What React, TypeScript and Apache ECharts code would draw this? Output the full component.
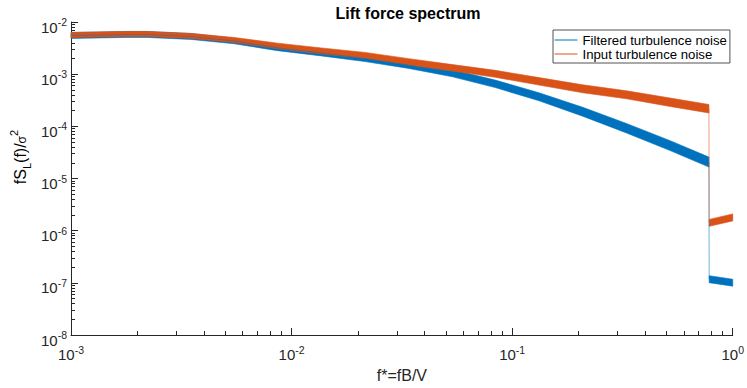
import React, { useEffect, useRef } from "react";
import * as echarts from "echarts";

// Normalised frequency f* = fB/V (sample points)
const freq = [0.001, 0.001769, 0.002222, 0.003508, 0.00548, 0.00865, 0.01365, 0.02154, 0.034, 0.0537, 0.0838, 0.1323, 0.2088, 0.3296, 0.5202, 0.78, 0.782, 1.0];

// Input turbulence noise: band centre, upper and lower envelope of the noisy trace
const inputMid = [5.64e-3, 5.898e-3, 5.898e-3, 5.4e-3, 4.53e-3, 3.478e-3, 2.791e-3, 2.29e-3, 1.72e-3, 1.321e-3, 1.015e-3, 7.295e-4, 5.243e-4, 4.027e-4, 2.895e-4, 2.175e-4, 1.41e-6, 1.797e-6];
const inputHi = [6.3e-3, 6.585e-3, 6.585e-3, 6.03e-3, 5.056e-3, 3.926e-3, 3.185e-3, 2.613e-3, 1.985e-3, 1.524e-3, 1.184e-3, 8.6e-4, 6.254e-4, 4.801e-4, 3.49e-4, 2.623e-4, 1.645e-6, 2.096e-6];
const inputLo = [5.056e-3, 5.283e-3, 5.283e-3, 4.84e-3, 4.058e-3, 3.082e-3, 2.446e-3, 2.007e-3, 1.491e-3, 1.145e-3, 8.7e-4, 6.185e-4, 4.398e-4, 3.378e-4, 2.401e-4, 1.804e-4, 1.209e-6, 1.54e-6];

// Filtered turbulence noise
const filteredMid = [5.52e-3, 5.77e-3, 5.77e-3, 5.283e-3, 4.335e-3, 3.185e-3, 2.556e-3, 1.99e-3, 1.488e-3, 1.037e-3, 6.535e-4, 3.688e-4, 1.906e-4, 9.22e-5, 4.269e-5, 2.066e-5, 1.174e-7, 1.006e-7];
const filteredHi = [6.3e-3, 6.585e-3, 6.585e-3, 6.03e-3, 4.892e-3, 3.594e-3, 2.916e-3, 2.27e-3, 1.717e-3, 1.21e-3, 7.705e-4, 4.398e-4, 2.323e-4, 1.137e-4, 5.32e-5, 2.574e-5, 1.37e-7, 1.174e-7];
const filteredLo = [4.84e-3, 5.056e-3, 5.056e-3, 4.63e-3, 3.841e-3, 2.822e-3, 2.24e-3, 1.743e-3, 1.289e-3, 8.89e-4, 5.54e-4, 3.093e-4, 1.564e-4, 7.482e-5, 3.425e-5, 1.658e-5, 1.006e-7, 8.63e-8];

// segments of the trace (before and after the drop)
const segments = [[0, 15], [16, 17]];

const seriesNames = ["Filtered turbulence noise", "Input turbulence noise"];
const titleText = "Lift force spectrum";
const xName = "f*=fB/V";

const BLUE = "#0072BD";
const ORANGE = "#D95319";
const AX = "#262626";
const FONT = "'Liberation Sans', Arial, Helvetica, sans-serif";

function bandSeries(name: string, hi: number[], lo: number[], color: string) {
  return {
    type: "custom",
    name,
    coordinateSystem: "cartesian2d",
    silent: true,
    encode: { x: 0, y: 1 },
    data: segments.map((s, k) => [freq[s[0]], hi[s[0]], k]),
    renderItem: (params: any, api: any) => {
      const k = api.value(2);
      const [s, e] = segments[k];
      const pts: number[][] = [];
      for (let i = s; i <= e; i++) pts.push(api.coord([freq[i], hi[i]]));
      for (let i = e; i >= s; i--) pts.push(api.coord([freq[i], lo[i]]));
      return {
        type: "polygon",
        shape: { points: pts },
        style: { fill: color, stroke: color, lineWidth: 0.6 },
      };
    },
  };
}

const expLabel = (v: number) => {
  const e = Math.round(Math.log10(v));
  return `{b|10}{s|${e}}`;
};

const tickRich = {
  b: { fontSize: 15, fontFamily: FONT, color: AX, lineHeight: 18, verticalAlign: "bottom" },
  s: { fontSize: 10.5, fontFamily: FONT, color: AX, lineHeight: 18, verticalAlign: "top" },
};

export default function App() {
  const ref = useRef<HTMLDivElement>(null);
  useEffect(() => {
    if (!ref.current) return;
    const chart = echarts.init(ref.current, undefined, { renderer: "svg" });
    const option: any = {
      animation: false,
      backgroundColor: "#ffffff",
      title: {
        text: titleText,
        left: 403,
        top: 0,
        textAlign: "center",
        textStyle: { fontSize: 16, fontWeight: "bold", fontFamily: FONT, color: "#000" },
      },
      grid: { left: 71, right: 10, top: 22, bottom: 52 },
      legend: {
        data: seriesNames,
        orient: "vertical",
        left: 553,
        top: 30,
        padding: [3, 3, 2, 1],
        itemGap: 0,
        itemWidth: 23,
        itemHeight: 14,
        backgroundColor: "#fff",
        borderColor: AX,
        borderWidth: 0.8,
        lineStyle: { opacity: 1, width: 1 },
        itemStyle: { opacity: 0 },
        textStyle: { fontSize: 13.2, fontFamily: FONT, color: "#000", lineHeight: 14 },
      },
      xAxis: {
        type: "log",
        logBase: 10,
        min: 0.001,
        max: 1,
        axisLine: { show: true, onZero: false, lineStyle: { color: AX, width: 1 } },
        axisTick: { show: true, inside: true, length: 7, lineStyle: { color: AX } },
        minorTick: { show: true, splitNumber: 9, length: 4, lineStyle: { color: AX } },
        splitLine: { show: false },
        minorSplitLine: { show: false },
        axisLabel: { margin: 9, formatter: expLabel, rich: tickRich, showMinLabel: true, showMaxLabel: true },
        name: xName,
        nameLocation: "middle",
        nameGap: 32,
        nameTextStyle: { fontSize: 16, fontFamily: FONT, color: AX },
      },
      yAxis: {
        type: "log",
        logBase: 10,
        min: 1e-8,
        max: 1e-2,
        axisLine: { show: true, onZero: false, lineStyle: { color: AX, width: 1 } },
        axisTick: { show: true, inside: true, length: 7, lineStyle: { color: AX } },
        minorTick: { show: true, splitNumber: 9, length: 4, lineStyle: { color: AX } },
        splitLine: { show: false },
        minorSplitLine: { show: false },
        axisLabel: { margin: 4, formatter: expLabel, rich: tickRich, padding: [7, 0, 0, 0], showMinLabel: true, showMaxLabel: true },
      },
      graphic: [
        {
          type: "text",
          x: 20,
          y: 157,
          rotation: Math.PI / 2,
          style: {
            text: "{n|fS}{sub|L}{n|(f)/}{g|σ}{sup|2}",
            align: "center",
            verticalAlign: "middle",
            rich: {
              n: { fontSize: 16, fontFamily: FONT, color: AX, lineHeight: 24, verticalAlign: "middle" },
              sub: { fontSize: 11, fontFamily: FONT, color: AX, lineHeight: 24, verticalAlign: "bottom" },
              g: { fontSize: 12, fontFamily: FONT, color: AX, lineHeight: 24, verticalAlign: "middle", padding: [4, 0, 0, 0] },
              sup: { fontSize: 11, fontFamily: FONT, color: AX, lineHeight: 24, verticalAlign: "top" },
            },
          },
        },
      ],
      series: [
        bandSeries("filtered-band", filteredHi, filteredLo, BLUE),
        {
          type: "line",
          name: seriesNames[0],
          data: freq.map((f, i) => [f, filteredMid[i]]),
          symbol: "none",
          showSymbol: false,
          lineStyle: { color: BLUE, width: 1, opacity: 0.55 },
          itemStyle: { color: BLUE },
        },
        bandSeries("input-band", inputHi, inputLo, ORANGE),
        {
          type: "line",
          name: seriesNames[1],
          data: freq.map((f, i) => [f, inputMid[i]]),
          symbol: "none",
          showSymbol: false,
          lineStyle: { color: ORANGE, width: 1, opacity: 0.55 },
          itemStyle: { color: ORANGE },
        },
      ],
    };
    chart.setOption(option);
    return () => chart.dispose();
  }, []);
  return <div ref={ref} style={{ position: "fixed", left: 0, top: 0, width: 747, height: 388 }} />;
}
